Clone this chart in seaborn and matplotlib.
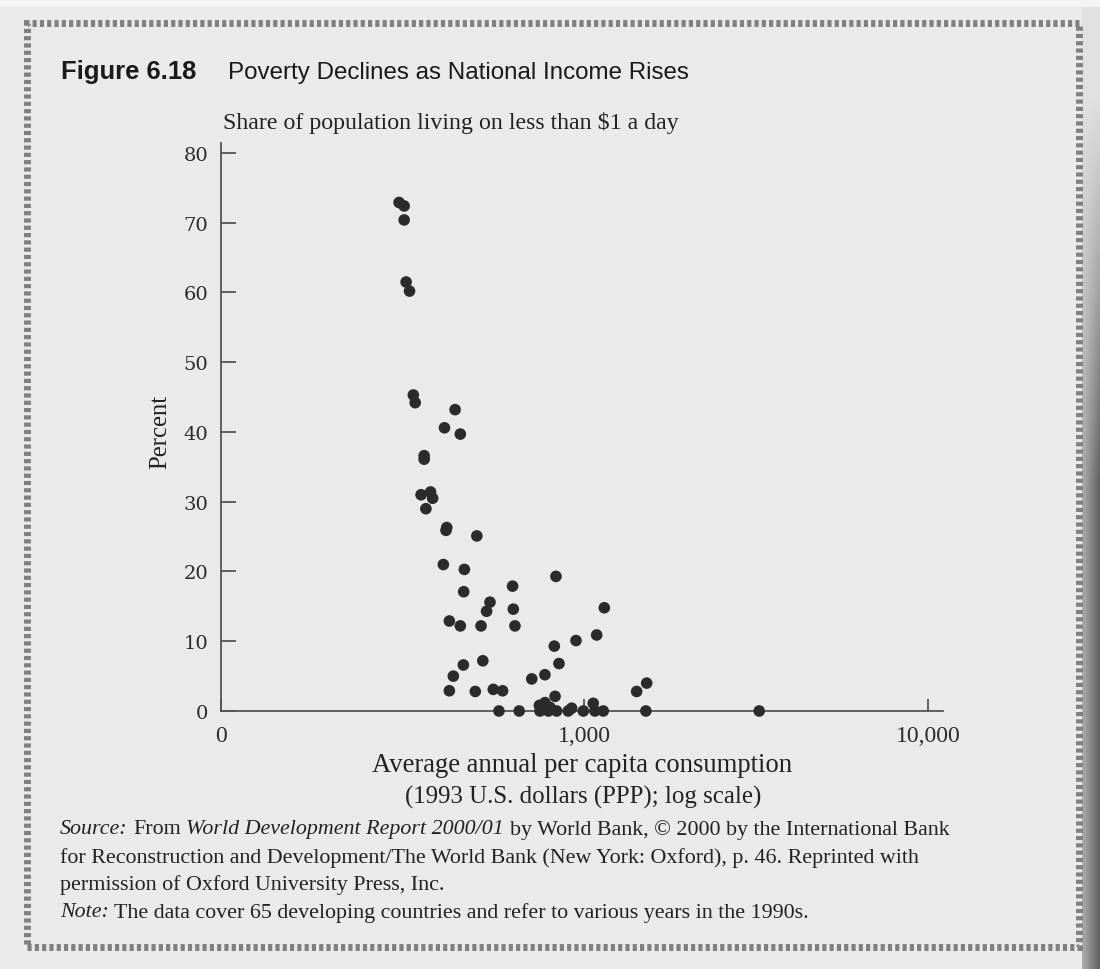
import numpy as np
import pandas as pd
import matplotlib
matplotlib.use("Agg")
import matplotlib.pyplot as plt
import seaborn as sns
from matplotlib.patches import Rectangle
from matplotlib.ticker import FixedLocator, FixedFormatter, NullLocator

# ---------------- data ----------------
consumption = [290, 300, 300, 304, 311, 319, 323, 393, 422, 437,
               343, 343, 336, 358, 363, 347, 399, 397, 488, 390,
               449, 447, 406, 437, 502, 533, 521, 620, 623, 630,
               508, 446, 417, 406, 483, 545, 580, 705, 770, 566,
               648, 829, 1146, 820, 948, 1089, 846, 1522, 1423, 824,
               742, 770, 797, 745, 788, 833, 900, 921, 996, 1064,
               1076, 1138, 1514, 3233, 762]
share = [72.9, 72.4, 70.4, 61.5, 60.2, 45.3, 44.2, 40.6, 43.2, 39.7,
         36.6, 36.1, 31.0, 31.4, 30.5, 29.0, 26.3, 25.9, 25.1, 21.0,
         20.3, 17.1, 12.9, 12.2, 12.2, 15.6, 14.3, 17.9, 14.6, 12.2,
         7.2, 6.6, 5.0, 2.9, 2.8, 3.1, 2.9, 4.6, 5.2, 0.0,
         0.0, 19.3, 14.8, 9.3, 10.1, 10.9, 6.8, 4.0, 2.8, 2.1,
         0.8, 1.2, 0.5, 0.0, 0.0, 0.0, 0.0, 0.4, 0.0, 1.1,
         0.0, 0.0, 0.0, 0.0, 0.5]
x_ticks = [88, 1000, 10000]
x_tick_labels = ["0", "1,000", "10,000"]
y_ticks = [0, 10, 20, 30, 40, 50, 60, 70, 80]
y_tick_labels = ["0", "10", "20", "30", "40", "50", "60", "70", "80"]

fig_label = "Figure 6.18"
title = "Poverty Declines as National Income Rises"
subtitle = "Share of population living on less than $1 a day"
y_label = "Percent"
x_label_1 = "Average annual per capita consumption"
x_label_2 = "(1993 U.S. dollars (PPP); log scale)"
source_lines = [
    [("Source:", "italic"), ("From", "normal"),
     ("World Development Report 2000/01", "italic"),
     ("by World Bank, \u00a9 2000 by the International Bank", "normal")],
    [("for Reconstruction and Development/The World Bank (New York: Oxford), p. 46. Reprinted with", "normal")],
    [("permission of Oxford University Press, Inc.", "normal")],
    [("Note:", "italic"),
     ("The data cover 65 developing countries and refer to various years in the 1990s.", "normal")],
]

# ---------------- figure ----------------
W, H = 1100, 970
sns.set_style("white")
plt.rcParams["font.family"] = ["Liberation Serif", "DejaVu Serif"]

fig = plt.figure(figsize=(W / 100, H / 100), dpi=100, facecolor="#eaeaea")
renderer = fig.canvas.get_renderer()


def fx(px):
    return px / W


def fy(py):
    return 1 - py / H


# page details: lighter top strip, gutter shadow, dashed frame
fig.patches.append(Rectangle((0, fy(8)), 1, 8 / H, transform=fig.transFigure,
                             facecolor="#f4f4f4", edgecolor="none", zorder=0))
gax = fig.add_axes([fx(1082), 0, 18 / W, 1])
gx = np.linspace(0, 1, 20)[None, :]
gy = np.linspace(0, 1, 200)[:, None]
ramp = np.clip((gy - 0.1) / 0.4, 0, 1)
grad = 0.88 - 0.3 * gx * ramp - 0.2 * ramp
gax.imshow(grad, cmap="gray", vmin=0, vmax=1, aspect="auto", interpolation="bilinear")
gax.set_axis_off()

fig.patches.append(Rectangle((fx(27), fy(948)), (1079 - 27) / W, (948 - 24) / H,
                             transform=fig.transFigure, facecolor="none",
                             edgecolor="#808080", linewidth=5,
                             linestyle=(0, (0.6, 0.45)), zorder=1))

# ---------------- axes ----------------
ax = fig.add_axes([fx(221), fy(712), (943 - 221) / W, (712 - 143.5) / H])
ax.set_facecolor("none")
df = pd.DataFrame({"consumption": consumption, "share": share})
sns.scatterplot(data=df, x="consumption", y="share", ax=ax, color="#2b2b2b",
                s=70, edgecolor="none", linewidth=0, clip_on=False, zorder=3)
ax.set_xscale("log")
ax.set_xlim(88, 11070)
ax.set_ylim(0, 81.5)
ax.set_xlabel("")
ax.set_ylabel("")
for side in ["top", "right"]:
    ax.spines[side].set_visible(False)
for side in ["left", "bottom"]:
    ax.spines[side].set_color("#555555")
    ax.spines[side].set_linewidth(1.3)

ax.xaxis.set_major_locator(FixedLocator(x_ticks))
ax.xaxis.set_major_formatter(FixedFormatter(x_tick_labels))
ax.xaxis.set_minor_locator(NullLocator())
ax.yaxis.set_major_locator(FixedLocator(y_ticks))
ax.yaxis.set_major_formatter(FixedFormatter(y_tick_labels))
ax.yaxis.set_minor_locator(NullLocator())
ax.tick_params(axis="y", which="major", left=True, direction="in", length=11,
               width=1.3, color="#555555", pad=9, labelsize=14,
               labelcolor="#2a2a2a")
ax.tick_params(axis="x", which="major", bottom=True, direction="in", length=9,
               width=1.3, color="#555555", pad=10, labelsize=17,
               labelcolor="#2a2a2a")
for lbl in ax.get_yticklabels():
    lbl.set_fontfamily(["DejaVu Serif"])
for lbl in ax.get_xticklabels():
    lbl.set_fontfamily(["Liberation Serif"])


# ---------------- text helpers ----------------
def fit_text(x, y, s, width, size0=15, **kw):
    t = fig.text(fx(x), fy(y), s, fontsize=size0, **kw)
    w = t.get_window_extent(renderer).width
    t.set_fontsize(size0 * width / w)
    return t


def draw_runs(x, y, runs, size, **kw):
    texts = []
    cx = x
    for s, style in runs:
        t = fig.text(fx(cx), fy(y), s, fontsize=size, fontstyle=style,
                     va="center", ha="left", color="#222222", **kw)
        w = t.get_window_extent(renderer).width
        cx += w + 0.25 * size * 100 / 72
        texts.append(t)
    return texts, cx - x - 0.25 * size * 100 / 72


sans = ["Liberation Sans Narrow", "Liberation Sans", "DejaVu Sans"]
fit_text(61, 79, fig_label, 136, fontweight="bold", family=sans,
         va="baseline", ha="left", color="#1a1a1a")
fit_text(228, 79, title, 462, family=sans, va="baseline", ha="left",
         color="#1a1a1a")
fit_text(223, 123, subtitle, 457, va="center", ha="left", color="#222222")

tp = fig.text(fx(160), fy(432), y_label, fontsize=15, rotation=90,
              va="center", ha="center", color="#222222")
hgt = tp.get_window_extent(renderer).height
tp.set_fontsize(15 * 75 / hgt)

fit_text(372, 766, x_label_1, 423, va="center", ha="left", color="#222222")
fit_text(405, 797, x_label_2, 357, va="center", ha="left", color="#222222")

# source block: fit size from first line width
texts, wtot = draw_runs(60, 830, source_lines[0], 14)
for t in texts:
    t.remove()
src_size = 14 * 895 / wtot
for (ypx, runs) in zip([830, 858, 885, 913], source_lines):
    draw_runs(60, ypx, runs, src_size)

fig.savefig("out.png", dpi=100, facecolor=fig.get_facecolor())
